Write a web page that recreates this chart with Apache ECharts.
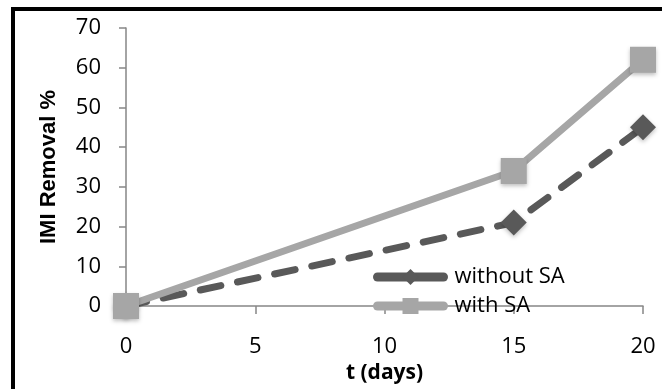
<!DOCTYPE html>
<html>
<head>
<meta charset="utf-8">
<script src="https://cdn.jsdelivr.net/npm/echarts@6/dist/echarts.min.js"></script>
<style>
html,body{margin:0;padding:0;background:#fff;}
#c{width:662px;height:389px;}
</style>
</head>
<body>
<div id="c"></div>
<script>
const days = [0, 15, 20];
const withoutSA = [0, 21, 45];
const withSA = [0, 34, 62];
const seriesNames = ['without SA', 'with SA'];
const yTitle = 'IMI Removal %';
const xTitle = 't (days)';

const font = '"Open Sans", Lato, "Liberation Sans", sans-serif';
const chart = echarts.init(document.getElementById('c'), null, {renderer: 'canvas'});
const pairs = (ys) => days.map((d, i) => [d, ys[i]]);
chart.setOption({
  animation: false,
  backgroundColor: '#fff',
  graphic: [{
    type: 'rect', z: 100, silent: true,
    shape: {x: 13, y: 9, width: 700, height: 420},
    style: {fill: 'none', stroke: '#000', lineWidth: 4}
  }],
  grid: {left: 126, right: 19, top: 28, bottom: 83},
  legend: {
    orient: 'vertical', left: 368, top: 261, itemGap: 7,
    itemWidth: 66, itemHeight: 20,
    lineStyle: {width: 9, cap: 'round', type: 'solid'},
    textStyle: {fontFamily: font, fontSize: 22, color: '#000', padding: [0,0,0,6]},
    data: seriesNames
  },
  xAxis: {
    type: 'value', min: 0, max: 20, interval: 5,
    name: xTitle, nameLocation: 'middle', nameGap: 57,
    nameTextStyle: {fontFamily: font, fontSize: 21, fontWeight: 'bold', color: '#000'},
    axisLine: {lineStyle: {color: '#868686', width: 1.5}},
    axisTick: {show: true, inside: false, length: 8, lineStyle: {color: '#868686', width: 1.5}},
    axisLabel: {fontFamily: font, fontSize: 22, color: '#000', margin: 30},
    splitLine: {show: false}
  },
  yAxis: {
    type: 'value', min: 0, max: 70, interval: 10,
    name: yTitle, nameLocation: 'middle', nameGap: 66,
    nameTextStyle: {fontFamily: '"Liberation Sans", Arial, sans-serif', fontSize: 22, fontWeight: 'bold', color: '#000'},
    axisLine: {show: true, lineStyle: {color: '#868686', width: 1.5}},
    axisTick: {show: true, inside: false, length: 7, lineStyle: {color: '#868686', width: 1.5}},
    axisLabel: {fontFamily: font, fontSize: 22, color: '#000', margin: 25},
    splitLine: {show: false}
  },
  series: [
    {
      name: seriesNames[0], type: 'line', data: pairs(withoutSA),
      symbol: 'diamond', symbolSize: 26,
      itemStyle: {color: '#595959', shadowBlur: 4, shadowColor: 'rgba(0,0,0,0.25)', shadowOffsetY: 2},
      lineStyle: {color: '#595959', width: 7, type: [21, 17], cap: 'round'}
    },
    {
      name: seriesNames[1], type: 'line', data: pairs(withSA),
      symbol: 'rect', symbolSize: 26,
      itemStyle: {color: '#a6a6a6', shadowBlur: 4, shadowColor: 'rgba(0,0,0,0.25)', shadowOffsetY: 2},
      lineStyle: {color: '#a6a6a6', width: 7, cap: 'round'}
    }
  ]
});
</script>
</body>
</html>
